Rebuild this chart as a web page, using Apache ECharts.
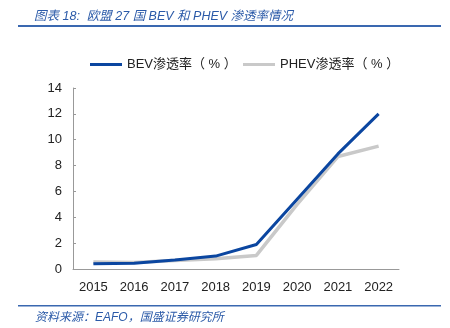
<!DOCTYPE html>
<html><head><meta charset="utf-8">
<script src="https://cdn.jsdelivr.net/npm/echarts@6/dist/echarts.min.js"></script>
<style>html,body{margin:0;padding:0;background:#fff}#c{width:450px;height:328px}</style>
</head><body><div id="c"></div>
<script>
const years = ['2015','2016','2017','2018','2019','2020','2021','2022'];
const bev = [0.4, 0.45, 0.7, 1.0, 1.9, 5.4, 8.9, 12.0];
const phev = [0.55, 0.5, 0.65, 0.8, 1.05, 5.0, 8.7, 9.5];
const yTicks = {min: 0, max: 14, interval: 2};
const titleText = '图表 18:  欧盟 27 国 BEV 和 PHEV 渗透率情况';
const sourceText = '资料来源：EAFO，国盛证券研究所';
const names = ['BEV渗透率（ % ）', 'PHEV渗透率（ % ）'];

const font = '"Liberation Sans", "Noto Sans CJK SC", sans-serif';
const legendCommon = {
  top: 53, itemWidth: 32, itemHeight: 3, icon: 'rect', itemGap: 0,
  textStyle: {fontSize: 13, color: '#222', fontFamily: font}
};
const chart = echarts.init(document.getElementById('c'), null, {renderer: 'canvas'});
chart.setOption({
  animation: false,
  backgroundColor: '#fff',
  title: [
    {text: titleText, left: 29, top: 5, textStyle: {fontSize: 12.5, fontStyle: 'italic', fontWeight: 'normal', color: '#2b5aa8', fontFamily: font}},
    {text: sourceText, left: 30, top: 307, textStyle: {fontSize: 12, fontStyle: 'italic', fontWeight: 'normal', color: '#2b5aa8', fontFamily: font}}
  ],
  graphic: [
    {type: 'rect', shape: {x: 18, y: 25, width: 423, height: 2}, style: {fill: '#3a68b0'}},
    {type: 'rect', shape: {x: 18, y: 305, width: 423, height: 1.5}, style: {fill: '#3a68b0'}}
  ],
  legend: [
    Object.assign({}, legendCommon, {left: 85, data: [names[0]]}),
    Object.assign({}, legendCommon, {left: 238, data: [names[1]]})
  ],
  grid: {left: 73, right: 51, top: 88, bottom: 59},
  xAxis: {
    type: 'category', data: years, boundaryGap: true,
    axisLine: {lineStyle: {color: '#999', width: 1}},
    axisTick: {inside: true, length: 4, lineStyle: {color: '#999'}},
    axisLabel: {fontSize: 13, color: '#222', margin: 12, fontFamily: font}
  },
  yAxis: {
    type: 'value', min: yTicks.min, max: yTicks.max, interval: yTicks.interval,
    splitLine: {show: false},
    axisLine: {show: true, lineStyle: {color: '#999', width: 1}},
    axisTick: {show: true, inside: true, length: 3, lineStyle: {color: '#999'}},
    axisLabel: {fontSize: 13, color: '#222', margin: 11, fontFamily: font}
  },
  series: [
    {name: names[1], type: 'line', data: phev, symbol: 'none', z: 2,
     lineStyle: {color: '#c9c9c9', width: 3.5}, itemStyle: {color: '#c9c9c9'}},
    {name: names[0], type: 'line', data: bev, symbol: 'none', z: 3,
     lineStyle: {color: '#0b46a0', width: 3}, itemStyle: {color: '#0b46a0'}}
  ]
});
</script></body></html>
